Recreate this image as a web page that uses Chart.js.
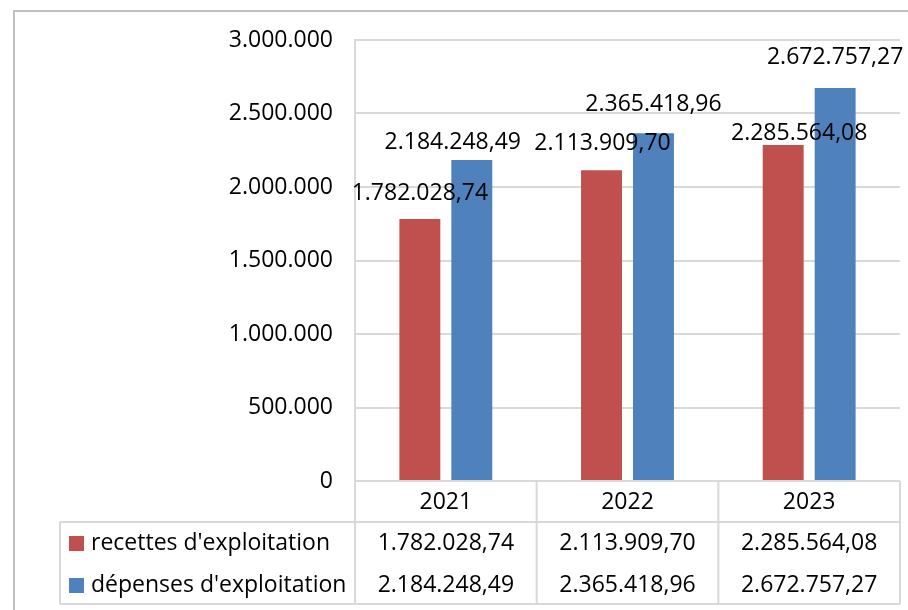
<!DOCTYPE html>
<html lang="fr">
<head>
<meta charset="utf-8">
<title>Recettes et dépenses d'exploitation</title>
<script src="https://cdn.jsdelivr.net/npm/chart.js@4.4.1/dist/chart.umd.min.js"></script>
<style>
    html, body { margin: 0; padding: 0; background: #fff; }
    #cadre { position: relative; width: 908px; height: 610px; }
    canvas { display: block; }
</style>
</head>
<body>
<div id="cadre"><canvas id="graphique" width="908" height="610"></canvas></div>
<script>
// =====================
// DONNÉES
// =====================
const annees = ["2021", "2022", "2023"];
const recettes = [1782028.74, 2113909.70, 2285564.08];
const depenses = [2184248.49, 2365418.96, 2672757.27];
const nomsSeries = ["recettes d'exploitation", "dépenses d'exploitation"];
const ticksY = [0, 500000, 1000000, 1500000, 2000000, 2500000, 3000000];

// décalage des étiquettes (dx, dy au-dessus de la barre), placées à la main
const decalRecettes = [[0, 26], [1, 27], [16, 12]];
const decalDepenses = [[-19, 17], [0, 29], [0, 31]];

const ROUGE = "#C0504D";
const BLEU = "#4F81BD";
const GRILLE = "#d9d9d9";
const POLICE = "'Open Sans', 'Noto Sans', sans-serif";
const TAILLE = 23;

// 1234567.8 -> "1.234.567,80"
function fmt(v, dec) {
    let s = v.toFixed(dec);
    let [ent, frac] = s.split(".");
    ent = ent.replace(/\B(?=(\d{3})+(?!\d))/g, ".");
    return frac ? ent + "," + frac : ent;
}

// =====================
// ÉTIQUETTES DE VALEUR
// =====================
const etiquettes = {
    id: "etiquettes",
    afterDatasetsDraw(chart) {
        let ctx = chart.ctx;
        ctx.save();
        ctx.font = TAILLE + "px " + POLICE;
        ctx.fillStyle = "#000";
        ctx.textAlign = "center";
        ctx.textBaseline = "middle";
        let decal = [decalRecettes, decalDepenses];
        chart.data.datasets.forEach((ds, i) => {
            chart.getDatasetMeta(i).data.forEach((bar, j) => {
                let [dx, dy] = decal[i][j];
                ctx.fillText(fmt(ds.data[j], 2), bar.x + dx, bar.y - dy);
            });
        });
        ctx.restore();
    }
};

// =====================
// TABLEAU DE DONNÉES SOUS L'AXE
// =====================
const tableau = {
    id: "tableau",
    afterDraw(chart) {
        let ctx = chart.ctx;
        let x = chart.scales.x;
        let area = chart.chartArea;
        let haut = area.bottom;
        let ligne1 = haut + 41;
        let bas = haut + 123;
        let gauche = 60;
        let pas = (area.right - area.left) / annees.length;

        ctx.save();
        ctx.strokeStyle = GRILLE;
        ctx.lineWidth = 2;
        ctx.beginPath();
        ctx.moveTo(area.left, haut); ctx.lineTo(area.right, haut);
        ctx.moveTo(gauche, ligne1); ctx.lineTo(area.right, ligne1);
        ctx.moveTo(gauche, bas); ctx.lineTo(area.right, bas);
        ctx.moveTo(gauche, ligne1); ctx.lineTo(gauche, bas);
        for (let k = 0; k <= annees.length; k++) {
            let xx = area.left + k * pas;
            ctx.moveTo(xx, haut); ctx.lineTo(xx, bas);
        }
        ctx.stroke();

        ctx.font = TAILLE + "px " + POLICE;
        ctx.fillStyle = "#000";
        ctx.textBaseline = "middle";
        ctx.textAlign = "center";
        annees.forEach((a, j) => {
            let cx = x.getPixelForValue(j);
            ctx.fillText(a, cx, haut + 21);
            ctx.fillText(fmt(recettes[j], 2), cx, ligne1 + 21);
            ctx.fillText(fmt(depenses[j], 2), cx, ligne1 + 63);
        });

        // légende dans la colonne de gauche
        let couleurs = [ROUGE, BLEU];
        ctx.textAlign = "left";
        nomsSeries.forEach((nom, i) => {
            let cy = ligne1 + 21 + i * 42;
            ctx.fillStyle = couleurs[i];
            ctx.fillRect(69, cy - 7, 15, 15);
            ctx.fillStyle = "#000";
            ctx.fillText(nom, 91, cy);
        });
        ctx.restore();
    }
};

// cadre gris autour du graphique
const cadre = {
    id: "cadre",
    beforeDraw(chart) {
        let ctx = chart.ctx;
        ctx.save();
        ctx.fillStyle = "#fff";
        ctx.fillRect(0, 0, chart.width, chart.height);
        ctx.strokeStyle = "#bfbfbf";
        ctx.lineWidth = 2;
        ctx.beginPath();
        ctx.moveTo(14, chart.height);
        ctx.lineTo(14, 11);
        ctx.lineTo(chart.width, 11);
        ctx.stroke();
        ctx.restore();
    }
};

// =====================
// GRAPHIQUE
// =====================
new Chart(document.getElementById("graphique"), {
    type: "bar",
    data: {
        labels: annees,
        datasets: [
            { label: nomsSeries[0], data: recettes, backgroundColor: ROUGE },
            { label: nomsSeries[1], data: depenses, backgroundColor: BLEU }
        ]
    },
    options: {
        responsive: false,
        animation: false,
        devicePixelRatio: 1,
        categoryPercentage: 0.572,
        barPercentage: 0.788,
        layout: { padding: { left: 0, top: 40, right: 8, bottom: 129 } },
        plugins: {
            legend: { display: false },
            tooltip: { enabled: false }
        },
        scales: {
            x: { display: false },
            y: {
                min: 0,
                max: 3000000,
                afterFit: s => { s.width = 355; },
                afterBuildTicks: s => { s.ticks = ticksY.map(v => ({ value: v })); },
                grid: { color: GRILLE, lineWidth: 2, drawTicks: false },
                border: { display: true, color: GRILLE, width: 2 },
                ticks: {
                    color: "#000",
                    padding: 22,
                    font: { family: POLICE, size: TAILLE },
                    callback: v => fmt(v, 0)
                }
            }
        }
    },
    plugins: [cadre, etiquettes, tableau]
});
</script>
</body>
</html>
